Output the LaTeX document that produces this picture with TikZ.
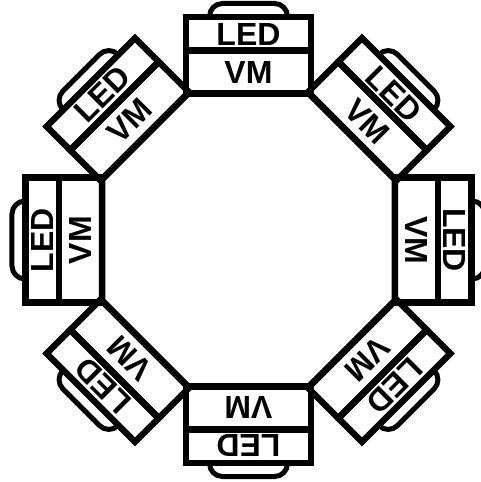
\documentclass[tikz,border=0pt]{standalone}
\usepackage{fontspec}
\setmainfont{Liberation Sans}
\begin{document}
\begin{tikzpicture}[x=1pt,y=1pt,line join=miter,
  box/.style={line width=6.5pt},
  domeline/.style={line width=5pt,rounded corners=13pt},
  lbl/.style={font=\fontsize{32}{32}\selectfont\bfseries,inner sep=0pt}]
\useasboundingbox (-248.5,-242) rectangle (231.5,240);
% modules: direction angle
\foreach \ang [count=\i] in {90,45,0,-45,-90,-135,180,135}{
  \begin{scope}[rotate=\ang-90]
    \draw[box] (-62.5,146.5) rectangle (62.5,189.5);
    \draw[box] (-62.5,189.5) rectangle (62.5,223);
    \draw[domeline] (-39,223) -- (-39,236.5) -- (39,236.5) -- (39,223);
    \node[lbl,rotate=\ang-90] (vm\i) at (0,168) {VM};
    \node[lbl,rotate=\ang-90] (led\i) at (0,206) {LED};
  \end{scope}
}
% central octagon
\draw[box] (22.5:158.57) -- (67.5:158.57) -- (112.5:158.57) -- (157.5:158.57)
  -- (202.5:158.57) -- (247.5:158.57) -- (292.5:158.57) -- (337.5:158.57) -- cycle;
\end{tikzpicture}
\end{document}
